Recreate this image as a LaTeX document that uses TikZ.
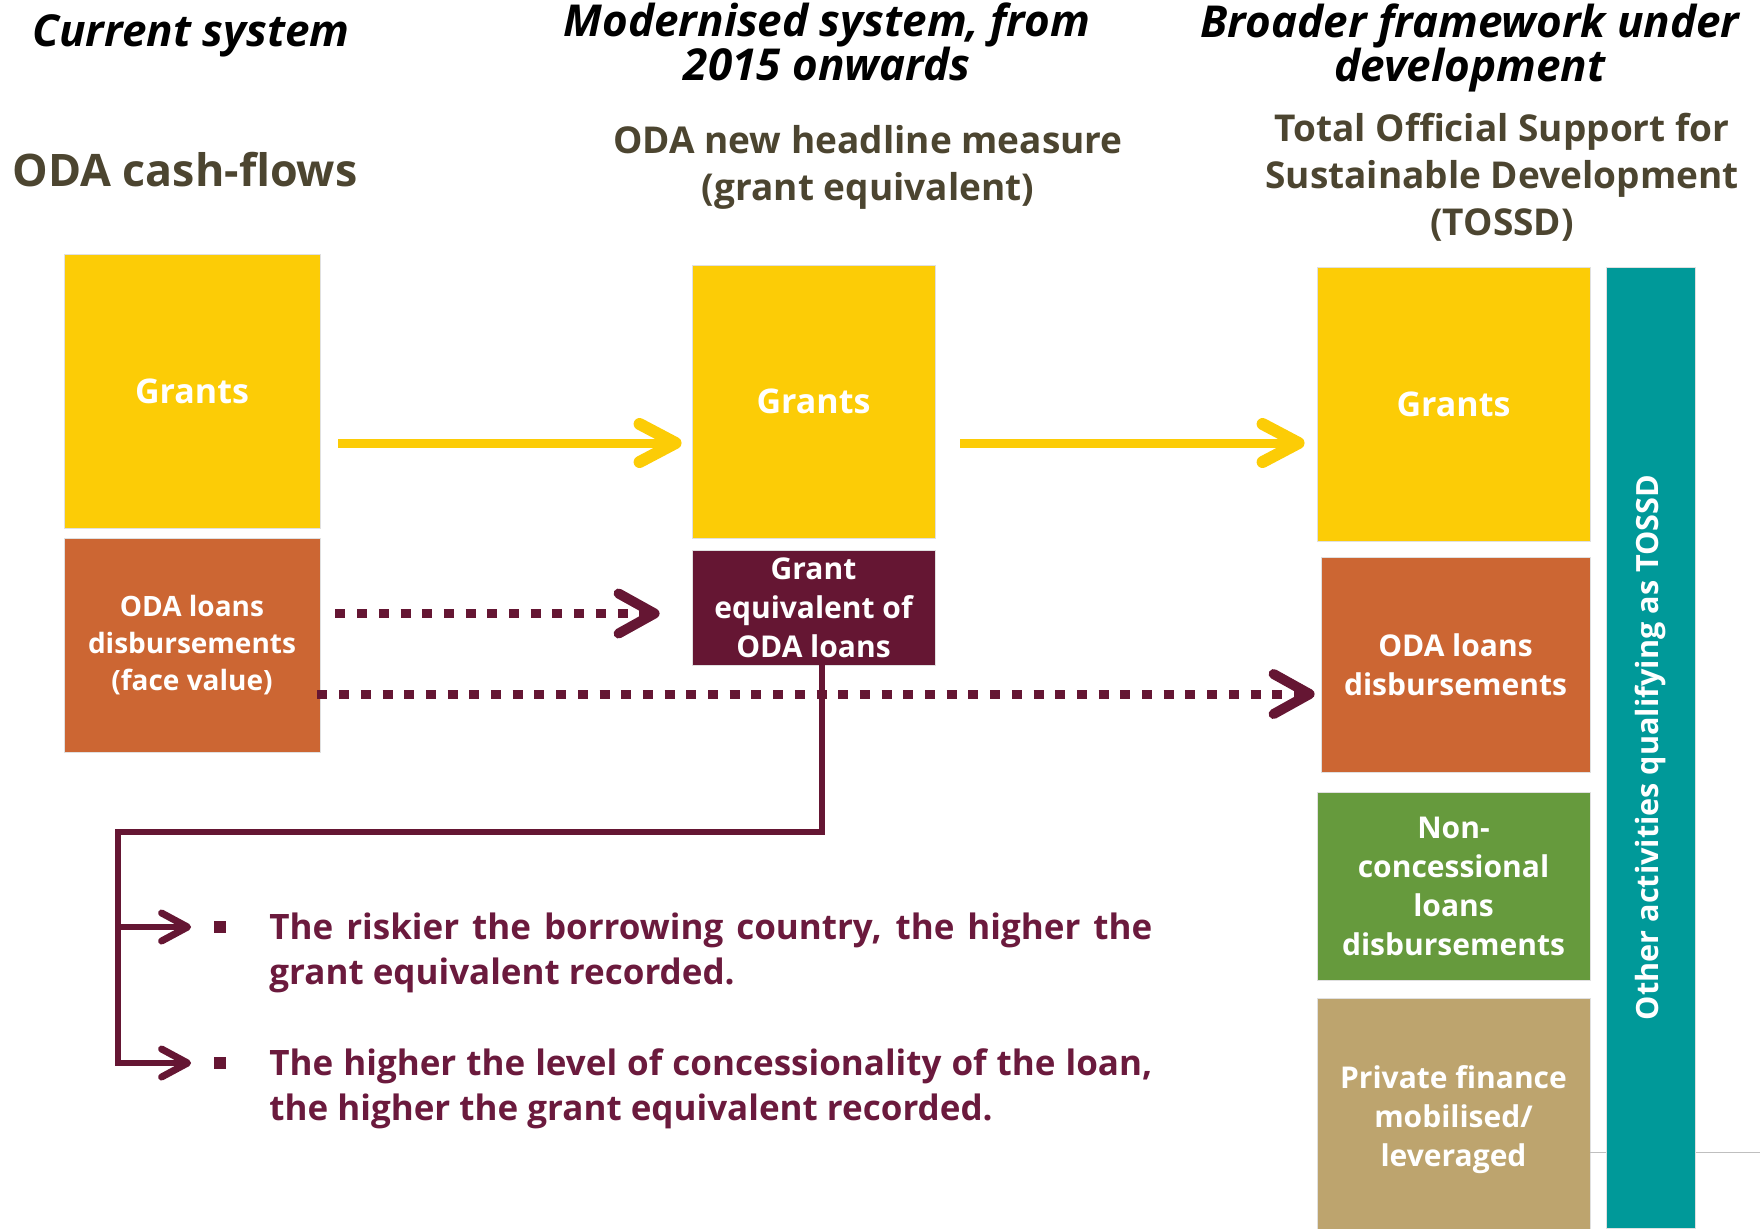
\documentclass[tikz,border=0pt]{standalone}
\usepackage{fontspec}
\setmainfont{Open Sans}
\usetikzlibrary{arrows.meta,calc}
\definecolor{gold}{HTML}{FCCC06}
\definecolor{rust}{HTML}{CC6633}
\definecolor{wine}{HTML}{651633}
\definecolor{leaf}{HTML}{669A3D}
\definecolor{sand}{HTML}{BDA46E}
\definecolor{sea}{HTML}{009999}
\definecolor{mud}{HTML}{4C4530}
\definecolor{winetext}{HTML}{6B1A3D}
\begin{document}
\begin{tikzpicture}[x=0.5pt,y=-0.5pt,
    head/.style={font=\fontsize{22}{22}\selectfont\bfseries\itshape, align=center},
    sub/.style={font=\fontsize{18.5}{23.5}\selectfont\bfseries, text=mud, align=center},
    blk/.style={inner sep=0pt, align=center, text=white, draw=black!12, line width=0.4pt},
    gr/.style={blk, fill=gold, font=\fontsize{17}{20}\selectfont\bfseries},
    txt/.style={font=\fontsize{15}{19.5}\selectfont\bfseries},
    yarr/.style={gold, line width=4.5pt, -{Straight Barb[length=18pt,width=19pt,line width=6pt,round]}},
    darr/.style={wine, line width=4.5pt, dash pattern=on 5pt off 5.85pt, -{Straight Barb[length=18pt,width=20pt,line width=5pt,round]}},
    link/.style={wine, line width=3pt, shorten >=11pt, -{Straight Barb[length=13pt,width=14pt,line width=3.5pt,round]}},
    bul/.style={fill=wine, inner sep=0pt, minimum size=6pt},
    bultext/.style={anchor=north west, inner sep=0pt, align=left, text=winetext, font=\fontsize{17.5}{22.5}\selectfont\bfseries}]
    \useasboundingbox (0,0) rectangle (1760,1228);
    % column titles
    \node[head] (hcur) at (191,36) {Current system};
    \node[head] (hmod) at (827,42) {Modernised system, from\\2015 onwards};
    \node[head] (hbro) at (1470,48) {Broader framework under\\development};
    \node[sub, font=\fontsize{22.4}{23.5}\selectfont\bfseries] (scur) at (185,170) {ODA cash-flows};
    \node[sub] (smod) at (868,167.5) {ODA new headline measure\\(grant equivalent)};
    \node[sub] (sbro) at (1502,177) {Total Official Support for\\Sustainable Development\\(TOSSD)};
    % boxes
    \node[gr, minimum width=128pt, minimum height=137pt] (lgr) at (192,391) {Grants};
    \node[blk, fill=rust, minimum width=128pt, minimum height=107pt, font=\fontsize{14}{18.5}\selectfont\bfseries] (lln) at (192,645) {ODA loans\\disbursements\\(face value)};
    \node[gr, minimum width=121.5pt, minimum height=136.5pt] (mgr) at (813.5,401.5) {Grants};
    \node[blk, txt, fill=wine, minimum width=121.5pt, minimum height=57.5pt] (mge) at (813.5,607.5) {Grant\\equivalent of\\ODA loans};
    \node[gr, minimum width=136.5pt, minimum height=137pt] (rgr) at (1453.5,404) {Grants};
    \node[blk, txt, fill=rust, minimum width=134.5pt, minimum height=107.5pt] (rln) at (1455.5,664.5) {ODA loans\\disbursements};
    \node[blk, txt, fill=leaf, minimum width=136.5pt, minimum height=94pt] (rnc) at (1453.5,886) {Non-\\concessional\\loans\\disbursements};
    \node[blk, txt, fill=sand, minimum width=136.5pt, minimum height=122pt] (rpf) at (1453.5,1120) {Private finance\\mobilised/\\leveraged};
    \draw[black!25, line width=0.5pt] (rpf.east |- 0,1152) -- (1760,1152);
    \node[blk, fill=sea, rotate=90, minimum width=480.5pt, minimum height=44.5pt, font=\fontsize{15.3}{19.5}\selectfont\bfseries] (tossd) at (1650.5,747.5) {Other activities qualifying as TOSSD};
    % flows
    \draw[yarr] ($(lgr.east)+(18,52)$) -- ($(mgr.west)+(-10,41.5)$);
    \draw[yarr] ($(mgr.east)+(25,41.5)$) -- ($(rgr.west)+(-12,39)$);
    \draw[darr] ($(lln.east)+(15,-31.5)$) -- ($(mge.west)+(-32,6)$);
    \draw[darr] ($(lln.east)+(-3,49)$) -- ($(rln.west)+(-6,29.5)$);
    % notes on the grant equivalent
    \node[bul] (bulA) at (219.5,927) {};
    \node[bul] (bulB) at (219.5,1063) {};
    \node[bultext] (txtA) at (269,912) {\makebox[441.5pt][s]{The riskier the borrowing country, the higher the}\\grant equivalent recorded.};
    \node[bultext] (txtB) at (269,1048) {\makebox[441.5pt][s]{The higher the level of concessionality of the loan,}\\the higher the grant equivalent recorded.};
    \coordinate (turn) at (118,832);
    \draw[link] ($(mge.south)+(8.5,0)$) |- (turn) |- (bulB);
    \draw[link] (turn |- bulA) -- (bulA);
\end{tikzpicture}
\end{document}
